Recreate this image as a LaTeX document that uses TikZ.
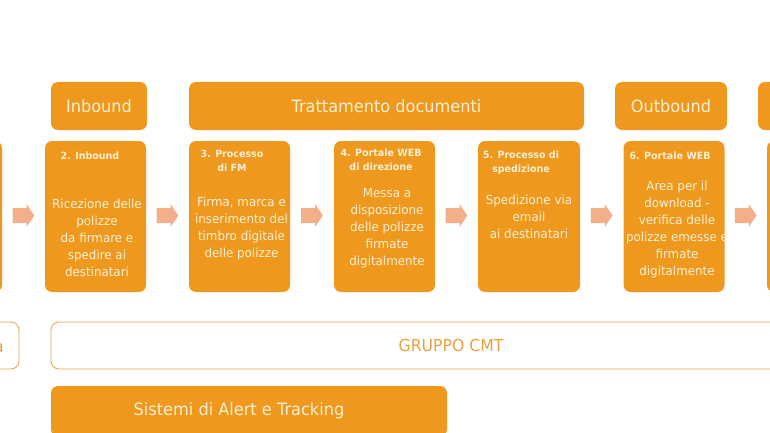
\documentclass[tikz,border=0pt]{standalone}
\usepackage{fontspec}
\setmainfont{DejaVu Sans}[FakeStretch=0.95]
\usepackage{tikz}
\usetikzlibrary{calc,positioning}

\definecolor{cmtorange}{RGB}{238,152,30}
\definecolor{cmtarrow}{RGB}{243,174,138}
\definecolor{cmtcream}{RGB}{253,240,212}
\definecolor{cmtline}{RGB}{232,160,64}

\tikzset{
  phase/.style={fill=cmtorange, rounded corners=7pt, text=cmtcream, inner sep=0pt,
    minimum height=48pt, font=\fontsize{17}{20}\selectfont},
  stepbox/.style={fill=cmtorange, rounded corners=7pt, inner sep=0pt,
    minimum width=101pt, minimum height=151pt},
  steptitle/.style={text=cmtcream, align=center, inner sep=0pt,
    font=\bfseries\fontsize{10}{14}\selectfont},
  steptext/.style={text=cmtcream, align=center, inner sep=0pt,
    font=\fontsize{12.5}{17}\selectfont},
  flowarrow/.pic={\fill[cmtarrow] (-10.8,-7.5) -- (3,-7.5) -- (3,-11.5) -- (10.8,0)
    -- (3,11.5) -- (3,7.5) -- (-10.8,7.5) -- cycle;},
  groupbox/.style={draw=cmtline, line width=0.8pt, fill=white, rounded corners=8pt,
    inner sep=0pt, minimum height=47pt, text=cmtline, font=\fontsize{16.5}{19}\selectfont},
}

\begin{document}
\begin{tikzpicture}[x=1pt,y=-1pt]
\useasboundingbox (0,0) rectangle (770,433);
\clip (0,0) rectangle (770,433);

% fasi
\node[phase, minimum width=96pt] (fin) at (99,106) {Inbound};
\node[phase, minimum width=395pt] (ftr) at (386.5,106) {Trattamento documenti};
\node[phase, minimum width=112pt] (fout) at (671,106) {Outbound};
\node[phase, minimum width=100pt] (fnext) at (808,106) {};

% passi
\node[stepbox] (p1) at (-48.5,216.5) {};
\node[stepbox] (p2) at (95.5,216.5) {};
\node[stepbox] (p3) at (239.5,216.5) {};
\node[stepbox] (p4) at (384.5,216.5) {};
\node[stepbox, minimum width=102pt] (p5) at (529,216.5) {};
\node[stepbox] (p6) at (674,216.5) {};
\node[stepbox] (p7) at (817.5,216.5) {};

\node[steptitle] (t2) at (90,156) {2. Inbound};
\node[steptitle] (t3) at (232,161) {3. Processo\\di FM};
\node[steptitle] (t4) at (381,160) {4. Portale WEB\\di direzione};
\node[steptitle] (t5) at (521,163) {5. Processo di\\spedizione};
\node[steptitle] (t6) at (670,156) {6. Portale WEB};

\node[steptext] (b2) at (97,237.5) {Ricezione delle\\polizze\\da firmare e\\spedire ai\\destinatari};
\node[steptext] (b3) at (241.5,229) {Firma, marca e\\inserimento del\\timbro digitale\\delle polizze};
\node[steptext] (b4) at (387,228) {Messa a\\disposizione\\delle polizze\\firmate\\digitalmente};
\node[steptext] (b5) at (529,217) {Spedizione via\\email\\ai destinatari};
\node[steptext] (b6) at (677,230) {Area per il\\download -\\verifica delle\\polizze emesse e\\firmate\\digitalmente};

% frecce
\coordinate (a12) at ($(p1.east)!0.5!(p2.west)+(0,-1)$);
\coordinate (a23) at ($(p2.east)!0.5!(p3.west)+(0,-1)$);
\coordinate (a34) at ($(p3.east)!0.5!(p4.west)+(0,-1)$);
\coordinate (a45) at ($(p4.east)!0.5!(p5.west)+(0,-1)$);
\coordinate (a56) at ($(p5.east)!0.5!(p6.west)+(0,-1)$);
\coordinate (a67) at ($(p6.east)!0.5!(p7.west)+(0,-1)$);
\pic at (a12) {flowarrow};
\pic at (a23) {flowarrow};
\pic at (a34) {flowarrow};
\pic at (a45) {flowarrow};
\pic at (a56) {flowarrow};
\pic at (a67) {flowarrow};

% gruppo e sistemi
\node[groupbox, minimum width=120pt] (gleft) at (-41,345.5) {};
\node[text=cmtline, inner sep=0pt, font=\fontsize{16.5}{19}\selectfont, anchor=base east] (gla) at (4,352) {a};
\node[groupbox, minimum width=800pt] (gcmt) at (451,345.5) {GRUPPO CMT};
\node[phase, minimum width=396pt, minimum height=50pt] (alert) at (249,411) {};
\node[text=cmtcream, inner sep=0pt, font=\fontsize{17}{20}\selectfont] (alab) at (239,411) {Sistemi di Alert e Tracking};

\end{tikzpicture}
\end{document}
